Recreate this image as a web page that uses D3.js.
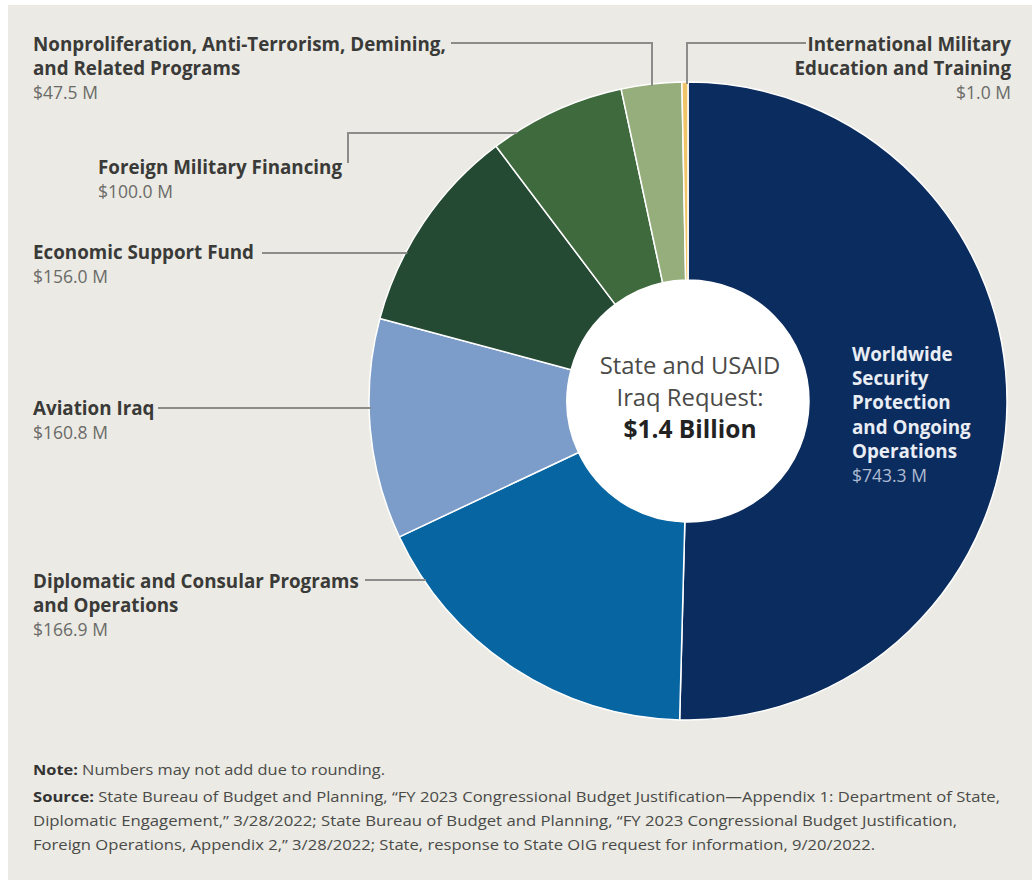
<!DOCTYPE html>
<html>
<head>
<meta charset="utf-8">
<script src="https://cdn.jsdelivr.net/npm/d3@7"></script>
<style>
  html, body { margin: 0; padding: 0; background: #ffffff; }
  svg { display: block; }
</style>
</head>
<body>
<svg id="chart" width="1032" height="880"></svg>
<script>
// ---------------- data ----------------
const categories = [
  "Worldwide Security Protection and Ongoing Operations",
  "Diplomatic and Consular Programs and Operations",
  "Aviation Iraq",
  "Economic Support Fund",
  "Foreign Military Financing",
  "Nonproliferation, Anti-Terrorism, Demining, and Related Programs",
  "International Military Education and Training"
];
const valuesMillions = [743.3, 166.9, 160.8, 156.0, 100.0, 47.5, 1.0];
const valueLabels = ["$743.3 M", "$166.9 M", "$160.8 M", "$156.0 M", "$100.0 M", "$47.5 M", "$1.0 M"];
// slice sizes as drawn in the original graphic (degrees;
// the original is not drawn strictly to scale)
const sliceDegrees = [181.5, 63.3, 40.2, 38.0, 24.9, 11.0, 1.1];
const centerTitle = ["State and USAID", "Iraq Request:"];
const centerTotal = "$1.4 Billion";
const noteText = "Numbers may not add due to rounding.";
const sourceLines = [
  "State Bureau of Budget and Planning, \u201CFY 2023 Congressional Budget Justification\u2014Appendix 1: Department of State,",
  "Diplomatic Engagement,\u201D 3/28/2022; State Bureau of Budget and Planning, \u201CFY 2023 Congressional Budget Justification,",
  "Foreign Operations, Appendix 2,\u201D 3/28/2022; State, response to State OIG request for information, 9/20/2022."
];

// ---------------- styles / layout ----------------
const colors = ["#0b2c5e", "#0765a2", "#7c9dc9", "#254a33", "#3e6a3e", "#95ae7b", "#f0c468"];
const W = 1032, H = 880;
const cx = 688, cy = 401, R = 319, r0 = 121;
const labelFont = "'Open Sans', Lato, sans-serif";
const lineColor = "#8c8c8a";

const labelLayout = [
  null, // WSP drawn inside slice
  { lines: ["Diplomatic and Consular Programs", "and Operations"], x: 33, y: 588, anchor: "start",
    leader: { type: "h", y: 580, x0: 365 } },
  { lines: ["Aviation Iraq"], x: 33, y: 415, anchor: "start",
    leader: { type: "h", y: 408, x0: 158 } },
  { lines: ["Economic Support Fund"], x: 33, y: 259, anchor: "start",
    leader: { type: "h", y: 253, x0: 262 } },
  { lines: ["Foreign Military Financing"], x: 98, y: 174, anchor: "start",
    leader: { type: "elbowV", xv: 348, yStart: 163, y: 133 } },
  { lines: ["Nonproliferation, Anti-Terrorism, Demining,", "and Related Programs"], x: 33, y: 51, anchor: "start",
    leader: { type: "hv", y: 43, x0: 451, xv: 652 } },
  { lines: ["International Military", "Education and Training"], x: 1011, y: 51, anchor: "end",
    leader: { type: "hv", y: 43, x0: 806, xv: 687 } }
];

const svg = d3.select("#chart");

svg.append("rect").attr("x", 0).attr("y", 0).attr("width", W).attr("height", H).attr("fill", "#ffffff");
svg.append("rect").attr("x", 8).attr("y", 5).attr("width", W - 8).attr("height", H - 5).attr("fill", "#ebeae4");

// ---------------- pie ----------------
const idx = d3.range(categories.length);
const pie = d3.pie().sort(null).value(i => sliceDegrees[i]);
const arcs = pie(idx);
const arc = d3.arc().innerRadius(r0).outerRadius(R);

const g = svg.append("g").attr("transform", `translate(${cx},${cy})`);
g.selectAll("path.slice")
  .data(arcs)
  .join("path")
  .attr("class", "slice")
  .attr("d", arc)
  .attr("fill", d => colors[d.data])
  .attr("stroke", "#ffffff")
  .attr("stroke-width", 1.5)
  .attr("stroke-linejoin", "round");

g.append("circle").attr("r", r0).attr("fill", "#ffffff");

// ---------------- leader lines ----------------
function edgeXAtY(y) { return cx - Math.sqrt(R * R - (y - cy) * (y - cy)); }
function edgeYAtX(x) { return cy - Math.sqrt(R * R - (x - cx) * (x - cx)); }

const leaders = svg.append("g").attr("fill", "none").attr("stroke", lineColor).attr("stroke-width", 2);
labelLayout.forEach(L => {
  if (!L) return;
  const s = L.leader;
  let pts;
  if (s.type === "h") {
    pts = [[s.x0, s.y], [edgeXAtY(s.y) + 2, s.y]];
  } else if (s.type === "elbowV") {
    pts = [[s.xv, s.yStart], [s.xv, s.y], [edgeXAtY(s.y) + 2, s.y]];
  } else if (s.type === "hv") {
    pts = [[s.x0, s.y], [s.xv, s.y], [s.xv, edgeYAtX(s.xv) + 2]];
  }
  leaders.append("path").attr("d", d3.line()(pts));
});

// ---------------- outside labels ----------------
const labelsG = svg.append("g").attr("font-family", labelFont);
labelLayout.forEach((L, i) => {
  if (!L) return;
  const t = labelsG.append("text").attr("text-anchor", L.anchor);
  L.lines.forEach((ln, k) => {
    t.append("tspan").attr("x", L.x).attr("y", L.y + k * 24)
      .attr("font-size", 18.8).attr("font-weight", 700).attr("fill", "#3a3a38").text(ln);
  });
  t.append("tspan").attr("x", L.x).attr("y", L.y + L.lines.length * 24)
    .attr("font-size", 17.5).attr("font-weight", 400).attr("fill", "#6a6a68").text(valueLabels[i]);
});

// ---------------- inside label for largest slice ----------------
const wspLines = ["Worldwide", "Security", "Protection", "and Ongoing", "Operations"];
const wt = svg.append("text").attr("font-family", labelFont).attr("text-anchor", "start");
wspLines.forEach((ln, k) => {
  wt.append("tspan").attr("x", 852).attr("y", 361 + k * 24.2)
    .attr("font-size", 18.8).attr("font-weight", 700).attr("fill", "#e9edf4").text(ln);
});
wt.append("tspan").attr("x", 852).attr("y", 361 + 5 * 24.2)
  .attr("font-size", 17.5).attr("font-weight", 400).attr("fill", "#aebbd2").text(valueLabels[0]);

// ---------------- center text ----------------
const ct = svg.append("text").attr("font-family", labelFont).attr("text-anchor", "middle");
centerTitle.forEach((ln, k) => {
  ct.append("tspan").attr("x", 690).attr("y", 374 + k * 32)
    .attr("font-size", 23.8).attr("font-weight", 400).attr("fill", "#4a4a48").text(ln);
});
ct.append("tspan").attr("x", 690).attr("y", 438)
  .attr("font-size", 24.5).attr("font-weight", 700).attr("fill", "#222222").text(centerTotal);

// ---------------- footer ----------------
const footFont = "'Liberation Sans Narrow', 'Open Sans', sans-serif";
const nt = svg.append("text").attr("x", 33).attr("y", 775).attr("font-family", footFont)
  .attr("font-size", 14).attr("fill", "#4a4a48")
  .attr("textLength", 352).attr("lengthAdjust", "spacingAndGlyphs");
nt.append("tspan").attr("font-weight", 700).attr("fill", "#333").text("Note: ");
nt.append("tspan").text(noteText);

const srcWidths = [967, 924, 842];
sourceLines.forEach((ln, k) => {
  const t = svg.append("text").attr("x", 33).attr("y", 802 + k * 24).attr("font-family", footFont)
    .attr("font-size", 14).attr("fill", "#4a4a48")
    .attr("textLength", srcWidths[k]).attr("lengthAdjust", "spacingAndGlyphs");
  if (k === 0) t.append("tspan").attr("font-weight", 700).attr("fill", "#333").text("Source: ");
  t.append("tspan").text(ln);
});
</script>
</body>
</html>
